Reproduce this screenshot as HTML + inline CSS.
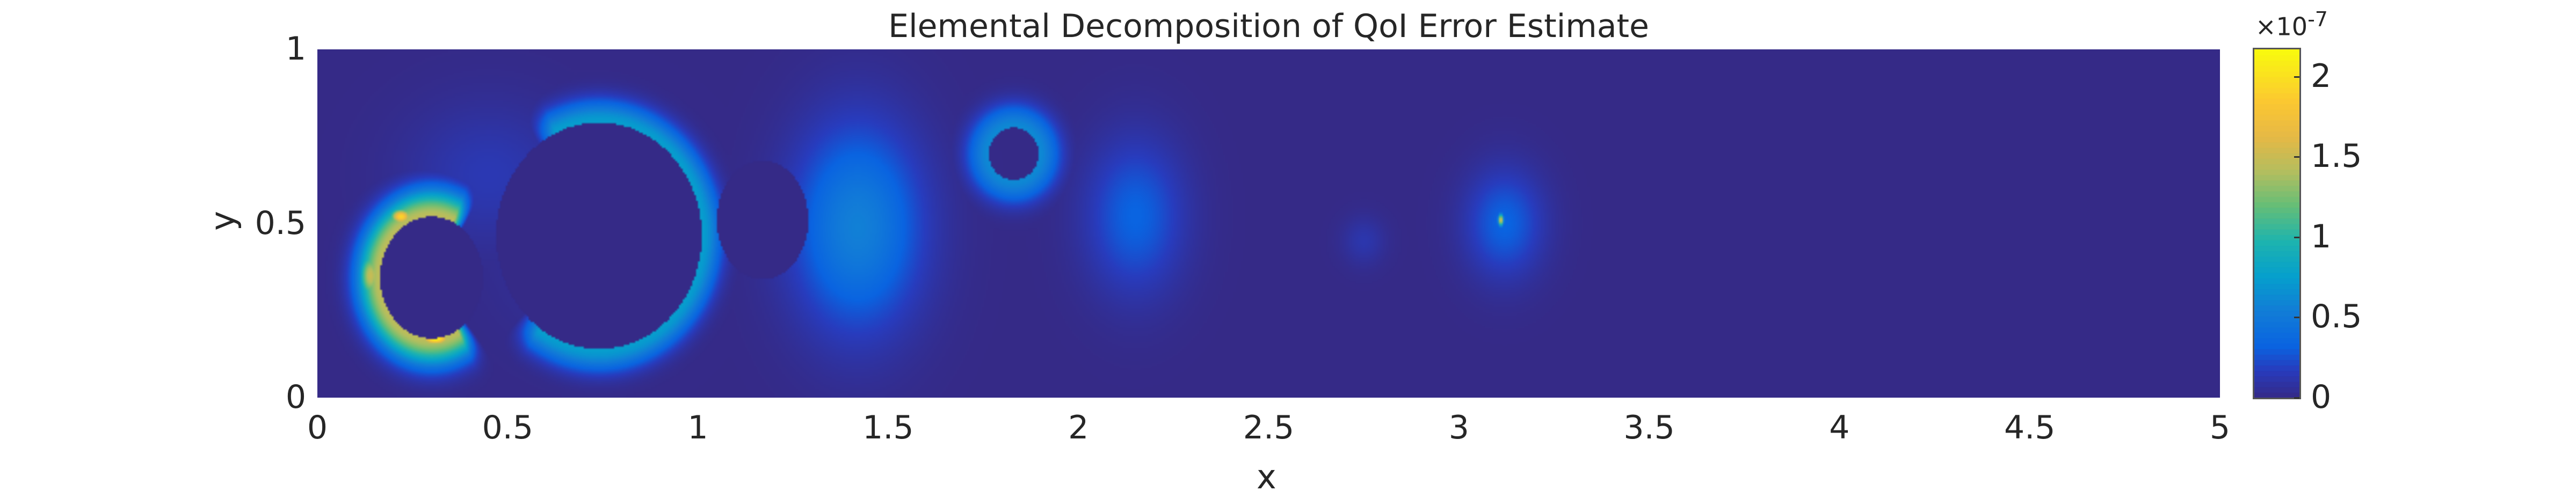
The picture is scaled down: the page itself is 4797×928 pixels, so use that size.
<!DOCTYPE html>
<html><head><meta charset="utf-8"><style>
body{margin:0;background:#fff;width:4797px;height:928px;overflow:hidden;font-family:"DejaVu Sans","Liberation Sans",sans-serif;color:#262626}
.t{position:absolute;white-space:nowrap}
</style></head><body>
<div style="position:relative;width:4797px;height:928px">
<div class="t" style="left:0;width:4725px;text-align:center;top:14px;font-size:60px">Elemental Decomposition of QoI Error Estimate</div>
<canvas id="plot" width="3543" height="649" style="position:absolute;left:591px;top:92px"></canvas>
<canvas id="cbar" width="84" height="649" style="position:absolute;left:4198px;top:92px;outline:3px solid #555"></canvas>
<div id="ax"></div>
<div class="t" style="left:2340px;top:852px;font-size:62px">x</div>
<div class="t" style="left:396px;top:375px;font-size:62px;transform:rotate(-90deg)">y</div>
<div class="t" style="left:4200px;top:14px;font-size:46px">×10<sup style="font-size:38px">-7</sup></div>
</div>
<script>
// heatmap features (data coords, values in 1e-7)
const ringCx=[0.30,0.74,1.83];
const ringCy=[0.345,0.465,0.70];
const ringRx=[0.135,0.27,0.065];
const ringRy=[0.175,0.325,0.075];
const ringW=[0.45,0.2,0.9];
const ringAmp=[1.45,0.75,0.62];
const ringGapFrom=[-60,115,0];
const ringGapTo=[65,235,0];
const blobX=[0.31,0.22,1.42,2.15,2.75,3.12,3.11,0.45,0.72,0.14];
const blobY=[0.17,0.52,0.49,0.52,0.45,0.50,0.51,0.64,0.47,0.35];
const blobRx=[0.07,0.05,0.26,0.20,0.09,0.16,0.012,0.34,0.36,0.05];
const blobRy=[0.035,0.04,0.45,0.34,0.11,0.24,0.03,0.32,0.42,0.12];
const blobAmp=[2.15,1.95,0.56,0.33,0.12,0.33,1.6,0.14,0.12,1.5];
const holeX=[1.17,0.30,0.74];
const holeY=[0.51,0.345,0.465];
const holeRx=[0.12,0.135,0.27];
const holeRy=[0.17,0.175,0.325];
const cmax=2.17;
const xTicks=[0,0.5,1,1.5,2,2.5,3,3.5,4,4.5,5];
const yTicks=[0,0.5,1];
const cTicks=[0,0.5,1,1.5,2];

const L=591,T=92,W=3543,H=649;
const sx=v=>L+v/5*W, sy=v=>T+H-v*H;
const stops=[[0,[53,42,135]],[0.08,[40,60,190]],[0.15,[10,100,225]],[0.25,[18,125,215]],[0.35,[6,160,205]],[0.45,[30,180,175]],[0.55,[100,190,120]],[0.65,[180,190,95]],[0.75,[230,185,70]],[0.85,[252,200,50]],[1,[249,251,14]]];
function cmap(t){t=Math.max(0,Math.min(1,t));for(let i=1;i<stops.length;i++){if(t<=stops[i][0]){const a=stops[i-1],b=stops[i],f=(t-a[0])/(b[0]-a[0]);return a[1].map((c,k)=>c+(b[1][k]-c)*f);}}return stops[stops.length-1][1];}
function val(x,y){
  for(let i=0;i<holeX.length;i++){const dx=(x-holeX[i])/holeRx[i],dy=(y-holeY[i])/holeRy[i];if(dx*dx+dy*dy<1)return 0;}
  let v=0;
  for(let i=0;i<ringCx.length;i++){const dx=(x-ringCx[i])/ringRx[i],dy=(y-ringCy[i])/ringRy[i];const r=Math.sqrt(dx*dx+dy*dy);if(r<1)continue;
    let ang=Math.atan2(dy,dx)*180/Math.PI;let a=ringAmp[i];
    const g1=ringGapFrom[i],g2=ringGapTo[i];
    if(g2>g1){let aa=ang;if(aa<g1)aa+=360;if(aa>=g1&&aa<=g2){const m=Math.min(aa-g1,g2-aa);a*=m<12?(1-m/12):0;}}
    v=Math.max(v,a*Math.exp(-Math.pow((r-1)/ringW[i],2)));}
  for(let i=0;i<blobX.length;i++){const dx=(x-blobX[i])/blobRx[i],dy=(y-blobY[i])/blobRy[i];v=Math.max(v,blobAmp[i]*Math.exp(-2.5*(dx*dx+dy*dy)));}
  return v;
}
const GW=1000,GH=184;
const off=document.createElement('canvas');off.width=GW;off.height=GH;
const oc=off.getContext('2d');const img=oc.createImageData(GW,GH);
for(let j=0;j<GH;j++)for(let i=0;i<GW;i++){const x=(i+0.5)/GW*5,y=1-(j+0.5)/GH;const c=cmap(val(x,y)/cmax);const p=(j*GW+i)*4;img.data[p]=c[0];img.data[p+1]=c[1];img.data[p+2]=c[2];img.data[p+3]=255;}
oc.putImageData(img,0,0);
const ctx=document.getElementById('plot').getContext('2d');ctx.imageSmoothingEnabled=true;ctx.drawImage(off,0,0,W,H);
const cb=document.getElementById('cbar').getContext('2d');
for(let k=0;k<64;k++){const c=cmap((k+0.5)/64);cb.fillStyle=`rgb(${c[0]|0},${c[1]|0},${c[2]|0})`;cb.fillRect(0,H-(k+1)*H/64,84,H/64+1);}
const ax=document.getElementById('ax');
xTicks.forEach(v=>{const d=document.createElement('div');d.className='t';


d.style.cssText=`left:${sx(v)-100}px;width:200px;text-align:center;top:762px;font-size:60px`;d.textContent=String(v);ax.appendChild(d);});
yTicks.forEach(v=>{const d=document.createElement('div');d.className='t';


d.style.cssText=`left:370px;width:200px;text-align:right;top:${sy(v)-36}px;font-size:60px`;d.textContent=String(v);ax.appendChild(d);});
cTicks.forEach(v=>{const d=document.createElement('div');d.className='t';


d.style.cssText=`left:4303px;top:${T+H-v/cmax*H-36}px;font-size:60px`;d.textContent=String(v);ax.appendChild(d);
const tk=document.createElement('div');


tk.style.cssText=`position:absolute;left:4272px;width:10px;height:3px;background:#333;top:${T+H-v/cmax*H-1}px`;ax.appendChild(tk);});
</script>
</body></html>
